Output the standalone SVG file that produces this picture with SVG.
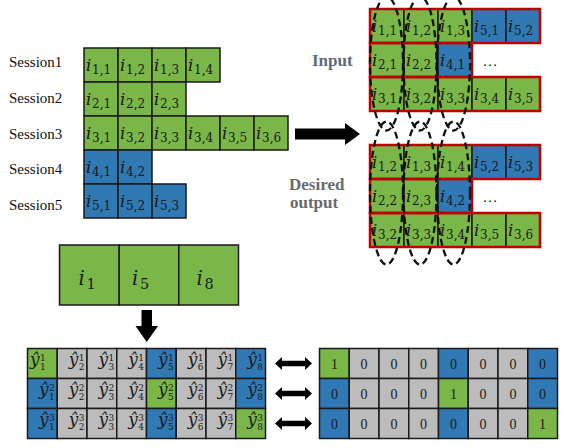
<svg xmlns="http://www.w3.org/2000/svg" width="572" height="448" viewBox="0 0 572 448">
<style>
.g{fill:#7ab648}.b{fill:#3079b4}.y{fill:#bcbcbc}
.c{stroke:#1a1a1a;stroke-width:1.5}
.red{fill:none;stroke:#c00000;stroke-width:2.5}
.it{font-family:"DejaVu Serif",serif;font-style:italic;font-size:16.5px;fill:#1a1a1a}
.sb{font-style:normal;font-size:12px}
.bi{font-family:"DejaVu Serif",serif;font-style:italic;font-size:19.5px;fill:#1a1a1a}
.bs{font-style:normal;font-size:14.5px}
.yh{font-family:"DejaVu Serif",serif;font-style:italic;font-size:17px;fill:#1a1a1a}
.sc{font-style:normal;font-size:9px}
.num{font-family:"Liberation Serif",serif;font-size:14px;fill:#1a1a1a;text-anchor:middle}
.lbl{font-family:"Liberation Serif",serif;font-size:15px;fill:#111}
.hd{font-family:"Liberation Serif",serif;font-size:17px;font-weight:bold}
.dots{font-family:"Liberation Serif",serif;font-size:15px;fill:#1a1a1a;text-anchor:middle}
.ell{fill:none;stroke:#111;stroke-width:2.3;stroke-dasharray:7 4}
.arr{fill:#000}
</style>

<g id="session-labels" class="lbl">
<text x="9" y="66.5">Session1</text>
<text x="9" y="102.5">Session2</text>
<text x="9" y="138.5">Session3</text>
<text x="9" y="174.3">Session4</text>
<text x="9" y="210">Session5</text>
</g>

<g id="session-grid">
<g class="c">
<rect class="g" x="84" y="48" width="34" height="34"/><rect class="g" x="118" y="48" width="34" height="34"/><rect class="g" x="152" y="48" width="34" height="34"/><rect class="g" x="186" y="48" width="34" height="34"/>
<rect class="g" x="84" y="82" width="34" height="34"/><rect class="g" x="118" y="82" width="34" height="34"/><rect class="g" x="152" y="82" width="34" height="34"/>
<rect class="g" x="84" y="116" width="34" height="34"/><rect class="g" x="118" y="116" width="34" height="34"/><rect class="g" x="152" y="116" width="34" height="34"/><rect class="g" x="186" y="116" width="34" height="34"/><rect class="g" x="220" y="116" width="34" height="34"/><rect class="g" x="254" y="116" width="34" height="34"/>
<rect class="b" x="84" y="150" width="34" height="34"/><rect class="b" x="118" y="150" width="34" height="34"/>
<rect class="b" x="84" y="184" width="34" height="34"/><rect class="b" x="118" y="184" width="34" height="34"/><rect class="b" x="152" y="184" width="34" height="34"/>
</g>
<g class="it">
<text x="86" y="71">i<tspan class="sb" x="92" y="73.5">1,1</tspan></text>
<text x="120" y="71">i<tspan class="sb" x="126" y="73.5">1,2</tspan></text>
<text x="154" y="71">i<tspan class="sb" x="160" y="73.5">1,3</tspan></text>
<text x="188" y="71">i<tspan class="sb" x="194" y="73.5">1,4</tspan></text>
<text x="86" y="105">i<tspan class="sb" x="92" y="107.5">2,1</tspan></text>
<text x="120" y="105">i<tspan class="sb" x="126" y="107.5">2,2</tspan></text>
<text x="154" y="105">i<tspan class="sb" x="160" y="107.5">2,3</tspan></text>
<text x="86" y="139">i<tspan class="sb" x="92" y="141.5">3,1</tspan></text>
<text x="120" y="139">i<tspan class="sb" x="126" y="141.5">3,2</tspan></text>
<text x="154" y="139">i<tspan class="sb" x="160" y="141.5">3,3</tspan></text>
<text x="188" y="139">i<tspan class="sb" x="194" y="141.5">3,4</tspan></text>
<text x="222" y="139">i<tspan class="sb" x="228" y="141.5">3,5</tspan></text>
<text x="256" y="139">i<tspan class="sb" x="262" y="141.5">3,6</tspan></text>
<text x="86" y="173">i<tspan class="sb" x="92" y="175.5">4,1</tspan></text>
<text x="120" y="173">i<tspan class="sb" x="126" y="175.5">4,2</tspan></text>
<text x="86" y="207">i<tspan class="sb" x="92" y="209.5">5,1</tspan></text>
<text x="120" y="207">i<tspan class="sb" x="126" y="209.5">5,2</tspan></text>
<text x="154" y="207">i<tspan class="sb" x="160" y="209.5">5,3</tspan></text>
</g>
</g>

<g id="input-label"><text class="hd" x="312" y="66" fill="#5d6b7d">Input</text></g>
<g id="output-label" class="hd" fill="#6a6a6a">
<text x="289" y="190">Desired</text>
<text x="290" y="208.3">output</text>
</g>

<g id="input-grid">
<g class="c">
<rect class="g" x="370" y="9" width="34" height="34"/><rect class="g" x="404" y="9" width="34" height="34"/><rect class="g" x="438" y="9" width="34" height="34"/><rect class="b" x="472" y="9" width="34" height="34"/><rect class="b" x="506" y="9" width="34" height="34"/>
<rect class="g" x="370" y="43" width="34" height="34"/><rect class="g" x="404" y="43" width="34" height="34"/><rect class="b" x="438" y="43" width="34" height="34"/>
<rect class="g" x="370" y="77" width="34" height="34"/><rect class="g" x="404" y="77" width="34" height="34"/><rect class="g" x="438" y="77" width="34" height="34"/><rect class="g" x="472" y="77" width="34" height="34"/><rect class="g" x="506" y="77" width="34" height="34"/>
</g>
<rect class="red" x="370" y="9" width="170" height="34"/>
<rect class="red" x="370" y="43" width="102" height="34"/>
<rect class="red" x="370" y="77" width="170" height="34"/>
<g class="it">
<text x="372" y="32">i<tspan class="sb" x="378" y="34.5">1,1</tspan></text>
<text x="406" y="32">i<tspan class="sb" x="412" y="34.5">1,2</tspan></text>
<text x="440" y="32">i<tspan class="sb" x="446" y="34.5">1,3</tspan></text>
<text x="474" y="32">i<tspan class="sb" x="480" y="34.5">5,1</tspan></text>
<text x="508" y="32">i<tspan class="sb" x="514" y="34.5">5,2</tspan></text>
<text x="372" y="66">i<tspan class="sb" x="378" y="68.5">2,1</tspan></text>
<text x="406" y="66">i<tspan class="sb" x="412" y="68.5">2,2</tspan></text>
<text x="440" y="66">i<tspan class="sb" x="446" y="68.5">4,1</tspan></text>
<text x="372" y="100">i<tspan class="sb" x="378" y="102.5">3,1</tspan></text>
<text x="406" y="100">i<tspan class="sb" x="412" y="102.5">3,2</tspan></text>
<text x="440" y="100">i<tspan class="sb" x="446" y="102.5">3,3</tspan></text>
<text x="474" y="100">i<tspan class="sb" x="480" y="102.5">3,4</tspan></text>
<text x="508" y="100">i<tspan class="sb" x="514" y="102.5">3,5</tspan></text>
</g>
<text class="dots" x="490" y="66">…</text>
</g>

<g id="output-grid">
<g class="c">
<rect class="g" x="370" y="145" width="34" height="34"/><rect class="g" x="404" y="145" width="34" height="34"/><rect class="g" x="438" y="145" width="34" height="34"/><rect class="b" x="472" y="145" width="34" height="34"/><rect class="b" x="506" y="145" width="34" height="34"/>
<rect class="g" x="370" y="179" width="34" height="34"/><rect class="g" x="404" y="179" width="34" height="34"/><rect class="b" x="438" y="179" width="34" height="34"/>
<rect class="g" x="370" y="213" width="34" height="34"/><rect class="g" x="404" y="213" width="34" height="34"/><rect class="g" x="438" y="213" width="34" height="34"/><rect class="g" x="472" y="213" width="34" height="34"/><rect class="g" x="506" y="213" width="34" height="34"/>
</g>
<rect class="red" x="370" y="145" width="170" height="34"/>
<rect class="red" x="370" y="179" width="102" height="34"/>
<rect class="red" x="370" y="213" width="170" height="34"/>
<g class="it">
<text x="372" y="168">i<tspan class="sb" x="378" y="170.5">1,2</tspan></text>
<text x="406" y="168">i<tspan class="sb" x="412" y="170.5">1,3</tspan></text>
<text x="440" y="168">i<tspan class="sb" x="446" y="170.5">1,4</tspan></text>
<text x="474" y="168">i<tspan class="sb" x="480" y="170.5">5,2</tspan></text>
<text x="508" y="168">i<tspan class="sb" x="514" y="170.5">5,3</tspan></text>
<text x="372" y="202">i<tspan class="sb" x="378" y="204.5">2,2</tspan></text>
<text x="406" y="202">i<tspan class="sb" x="412" y="204.5">2,3</tspan></text>
<text x="440" y="202">i<tspan class="sb" x="446" y="204.5">4,2</tspan></text>
<text x="372" y="236">i<tspan class="sb" x="378" y="238.5">3,2</tspan></text>
<text x="406" y="236">i<tspan class="sb" x="412" y="238.5">3,3</tspan></text>
<text x="440" y="236">i<tspan class="sb" x="446" y="238.5">3,4</tspan></text>
<text x="474" y="236">i<tspan class="sb" x="480" y="238.5">3,5</tspan></text>
<text x="508" y="236">i<tspan class="sb" x="514" y="238.5">3,6</tspan></text>
</g>
<text class="dots" x="490" y="202">…</text>
</g>

<g id="windows">
<ellipse class="ell" cx="386.5" cy="63.5" rx="16.5" ry="67"/>
<ellipse class="ell" cx="420" cy="63.5" rx="16.5" ry="67"/>
<ellipse class="ell" cx="453.5" cy="63.5" rx="16.5" ry="67"/>
<ellipse class="ell" cx="386.5" cy="193" rx="16.5" ry="71.5"/>
<ellipse class="ell" cx="420" cy="193" rx="16.5" ry="71.5"/>
<ellipse class="ell" cx="453.5" cy="193" rx="16.5" ry="71.5"/>
</g>

<g id="item-box">
<g class="c">
<rect class="g" x="59.5" y="245" width="59.7" height="60"/>
<rect class="g" x="119.2" y="245" width="59.6" height="60"/>
<rect class="g" x="178.8" y="245" width="59.7" height="60"/>
</g>
<g class="bi">
<text x="78.5" y="285">i<tspan class="bs" x="86.5" y="289.3">1</tspan></text>
<text x="132" y="285">i<tspan class="bs" x="140" y="289.3">5</tspan></text>
<text x="196.5" y="285">i<tspan class="bs" x="204.5" y="289.3">8</tspan></text>
</g>
</g>

<g id="pred-grid">
<g class="c">
<rect class="g" x="27.5" y="348.5" width="29.75" height="30"/><rect class="y" x="57.25" y="348.5" width="29.75" height="30"/><rect class="y" x="87" y="348.5" width="29.75" height="30"/><rect class="y" x="116.75" y="348.5" width="29.75" height="30"/><rect class="b" x="146.5" y="348.5" width="29.75" height="30"/><rect class="y" x="176.25" y="348.5" width="29.75" height="30"/><rect class="y" x="206" y="348.5" width="29.75" height="30"/><rect class="b" x="235.75" y="348.5" width="29.75" height="30"/>
<rect class="b" x="27.5" y="378.5" width="29.75" height="30"/><rect class="y" x="57.25" y="378.5" width="29.75" height="30"/><rect class="y" x="87" y="378.5" width="29.75" height="30"/><rect class="y" x="116.75" y="378.5" width="29.75" height="30"/><rect class="g" x="146.5" y="378.5" width="29.75" height="30"/><rect class="y" x="176.25" y="378.5" width="29.75" height="30"/><rect class="y" x="206" y="378.5" width="29.75" height="30"/><rect class="b" x="235.75" y="378.5" width="29.75" height="30"/>
<rect class="b" x="27.5" y="408.5" width="29.75" height="30"/><rect class="y" x="57.25" y="408.5" width="29.75" height="30"/><rect class="y" x="87" y="408.5" width="29.75" height="30"/><rect class="y" x="116.75" y="408.5" width="29.75" height="30"/><rect class="b" x="146.5" y="408.5" width="29.75" height="30"/><rect class="y" x="176.25" y="408.5" width="29.75" height="30"/><rect class="y" x="206" y="408.5" width="29.75" height="30"/><rect class="g" x="235.75" y="408.5" width="29.75" height="30"/>
</g>
<g class="yh">
<text x="30" y="365">ŷ<tspan class="sc" x="40" y="360.5">1</tspan><tspan class="sc" x="40" y="370">1</tspan></text>
<text x="68.75" y="365">ŷ<tspan class="sc" x="78.75" y="360.5">1</tspan><tspan class="sc" x="78.75" y="370">2</tspan></text>
<text x="98.5" y="365">ŷ<tspan class="sc" x="108.5" y="360.5">1</tspan><tspan class="sc" x="108.5" y="370">3</tspan></text>
<text x="128.25" y="365">ŷ<tspan class="sc" x="138.25" y="360.5">1</tspan><tspan class="sc" x="138.25" y="370">4</tspan></text>
<text x="158" y="365">ŷ<tspan class="sc" x="168" y="360.5">1</tspan><tspan class="sc" x="168" y="370">5</tspan></text>
<text x="187.75" y="365">ŷ<tspan class="sc" x="197.75" y="360.5">1</tspan><tspan class="sc" x="197.75" y="370">6</tspan></text>
<text x="217.5" y="365">ŷ<tspan class="sc" x="227.5" y="360.5">1</tspan><tspan class="sc" x="227.5" y="370">7</tspan></text>
<text x="247.25" y="365">ŷ<tspan class="sc" x="257.25" y="360.5">1</tspan><tspan class="sc" x="257.25" y="370">8</tspan></text>
<text x="39" y="395">ŷ<tspan class="sc" x="49" y="390.5">2</tspan><tspan class="sc" x="49" y="400">1</tspan></text>
<text x="68.75" y="395">ŷ<tspan class="sc" x="78.75" y="390.5">2</tspan><tspan class="sc" x="78.75" y="400">2</tspan></text>
<text x="98.5" y="395">ŷ<tspan class="sc" x="108.5" y="390.5">2</tspan><tspan class="sc" x="108.5" y="400">3</tspan></text>
<text x="128.25" y="395">ŷ<tspan class="sc" x="138.25" y="390.5">2</tspan><tspan class="sc" x="138.25" y="400">4</tspan></text>
<text x="158" y="395">ŷ<tspan class="sc" x="168" y="390.5">2</tspan><tspan class="sc" x="168" y="400">5</tspan></text>
<text x="187.75" y="395">ŷ<tspan class="sc" x="197.75" y="390.5">2</tspan><tspan class="sc" x="197.75" y="400">6</tspan></text>
<text x="217.5" y="395">ŷ<tspan class="sc" x="227.5" y="390.5">2</tspan><tspan class="sc" x="227.5" y="400">7</tspan></text>
<text x="247.25" y="395">ŷ<tspan class="sc" x="257.25" y="390.5">2</tspan><tspan class="sc" x="257.25" y="400">8</tspan></text>
<text x="39" y="425">ŷ<tspan class="sc" x="49" y="420.5">3</tspan><tspan class="sc" x="49" y="430">1</tspan></text>
<text x="68.75" y="425">ŷ<tspan class="sc" x="78.75" y="420.5">3</tspan><tspan class="sc" x="78.75" y="430">2</tspan></text>
<text x="98.5" y="425">ŷ<tspan class="sc" x="108.5" y="420.5">3</tspan><tspan class="sc" x="108.5" y="430">3</tspan></text>
<text x="128.25" y="425">ŷ<tspan class="sc" x="138.25" y="420.5">3</tspan><tspan class="sc" x="138.25" y="430">4</tspan></text>
<text x="158" y="425">ŷ<tspan class="sc" x="168" y="420.5">3</tspan><tspan class="sc" x="168" y="430">5</tspan></text>
<text x="187.75" y="425">ŷ<tspan class="sc" x="197.75" y="420.5">3</tspan><tspan class="sc" x="197.75" y="430">6</tspan></text>
<text x="217.5" y="425">ŷ<tspan class="sc" x="227.5" y="420.5">3</tspan><tspan class="sc" x="227.5" y="430">7</tspan></text>
<text x="247.25" y="425">ŷ<tspan class="sc" x="257.25" y="420.5">3</tspan><tspan class="sc" x="257.25" y="430">8</tspan></text>
</g>
</g>

<g id="target-grid">
<g class="c">
<rect class="g" x="319.5" y="348.5" width="29.75" height="30"/><rect class="y" x="349.25" y="348.5" width="29.75" height="30"/><rect class="y" x="379" y="348.5" width="29.75" height="30"/><rect class="y" x="408.75" y="348.5" width="29.75" height="30"/><rect class="b" x="438.5" y="348.5" width="29.75" height="30"/><rect class="y" x="468.25" y="348.5" width="29.75" height="30"/><rect class="y" x="498" y="348.5" width="29.75" height="30"/><rect class="b" x="527.75" y="348.5" width="29.75" height="30"/>
<rect class="b" x="319.5" y="378.5" width="29.75" height="30"/><rect class="y" x="349.25" y="378.5" width="29.75" height="30"/><rect class="y" x="379" y="378.5" width="29.75" height="30"/><rect class="y" x="408.75" y="378.5" width="29.75" height="30"/><rect class="g" x="438.5" y="378.5" width="29.75" height="30"/><rect class="y" x="468.25" y="378.5" width="29.75" height="30"/><rect class="y" x="498" y="378.5" width="29.75" height="30"/><rect class="b" x="527.75" y="378.5" width="29.75" height="30"/>
<rect class="b" x="319.5" y="408.5" width="29.75" height="30"/><rect class="y" x="349.25" y="408.5" width="29.75" height="30"/><rect class="y" x="379" y="408.5" width="29.75" height="30"/><rect class="y" x="408.75" y="408.5" width="29.75" height="30"/><rect class="b" x="438.5" y="408.5" width="29.75" height="30"/><rect class="y" x="468.25" y="408.5" width="29.75" height="30"/><rect class="y" x="498" y="408.5" width="29.75" height="30"/><rect class="g" x="527.75" y="408.5" width="29.75" height="30"/>
</g>
<g class="num">
<text x="334.4" y="369">1</text><text x="364.1" y="369">0</text><text x="393.9" y="369">0</text><text x="423.6" y="369">0</text><text x="453.4" y="369">0</text><text x="483.1" y="369">0</text><text x="512.9" y="369">0</text><text x="542.6" y="369">0</text>
<text x="334.4" y="399">0</text><text x="364.1" y="399">0</text><text x="393.9" y="399">0</text><text x="423.6" y="399">0</text><text x="453.4" y="399">1</text><text x="483.1" y="399">0</text><text x="512.9" y="399">0</text><text x="542.6" y="399">0</text>
<text x="334.4" y="429">0</text><text x="364.1" y="429">0</text><text x="393.9" y="429">0</text><text x="423.6" y="429">0</text><text x="453.4" y="429">0</text><text x="483.1" y="429">0</text><text x="512.9" y="429">0</text><text x="542.6" y="429">1</text>
</g>
</g>

<g id="connectors" class="arr">
<polygon points="295,128.5 345,128.5 345,123 360,134 345,145 345,139.5 295,139.5"/>
<polygon points="141.5,310 152,310 152,326 158,326 146.75,342 135.5,326 141.5,326"/>
<polygon points="275,363.5 282,357 282,360.75 305,360.75 305,357 312,363.5 305,370 305,366.25 282,366.25 282,370"/>
<polygon points="275,393.5 282,387 282,390.75 305,390.75 305,387 312,393.5 305,400 305,396.25 282,396.25 282,400"/>
<polygon points="275,423.5 282,417 282,420.75 305,420.75 305,417 312,423.5 305,430 305,426.25 282,426.25 282,430"/>
</g>
</svg>
